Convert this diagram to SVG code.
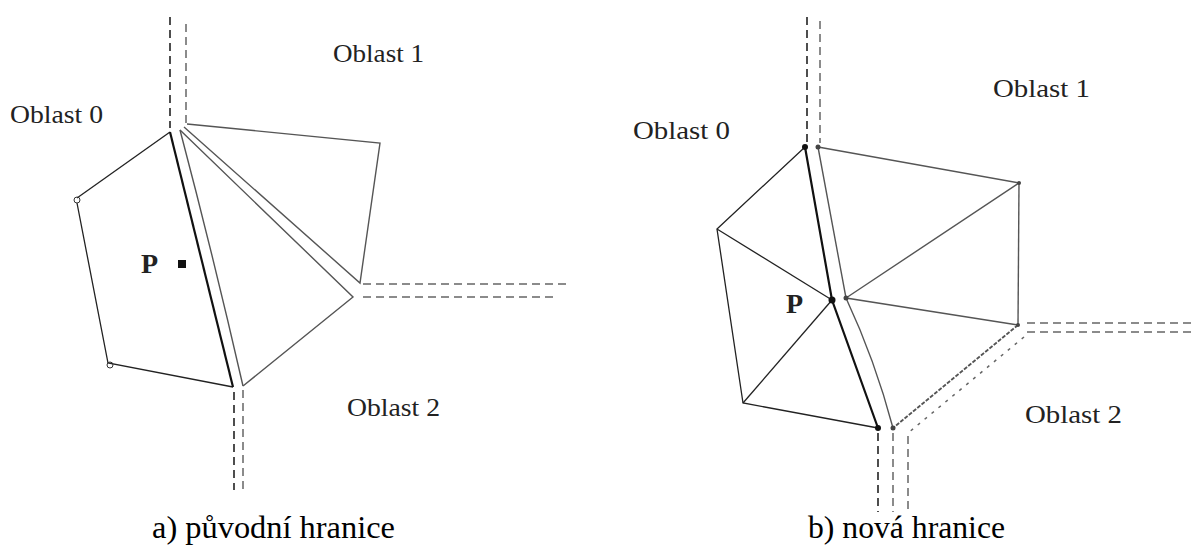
<svg xmlns="http://www.w3.org/2000/svg" width="1196" height="545" viewBox="0 0 1196 545">
<style>
.lbl{font-family:"Liberation Serif","DejaVu Serif",serif;font-size:26px;fill:#222}
.p{font-family:"Liberation Serif","DejaVu Serif",serif;font-size:28px;font-weight:bold;fill:#222}
.cap{font-family:"Liberation Serif","Times New Roman",serif;font-size:31px;fill:#000}
.blk{stroke:#111;stroke-width:2.2;fill:none}
.thin{stroke:#222;stroke-width:1.3;fill:none}
.gry{stroke:#555;stroke-width:1.4;fill:none}
.dd{stroke:#222;stroke-width:1.6;stroke-dasharray:8,5;fill:none}
.dg{stroke:#666;stroke-width:1.5;stroke-dasharray:8,5;fill:none}
.ds{stroke:#666;stroke-width:1.5;stroke-dasharray:3,6;fill:none}
.hat{stroke:#555;stroke-width:1.8;stroke-dasharray:4,1.5;fill:none}
</style>
<rect width="1196" height="545" fill="#fff"/>
<g id="connectors">
<g id="left-mesh">
<line class="dd" x1="170" y1="17" x2="170" y2="128"/>
<line class="dg" x1="186" y1="24" x2="186" y2="123"/>
<line class="dd" x1="234" y1="392" x2="234" y2="490"/>
<line class="dg" x1="243" y1="390" x2="243" y2="490"/>
<line class="dg" x1="363" y1="284" x2="567" y2="284"/>
<line class="dg" x1="363" y1="297" x2="558" y2="297"/>
<polyline class="thin" points="170,132 77,198"/>
<polyline class="thin" points="77,203 108,363 233,387"/>
<line class="blk" x1="170" y1="132" x2="233" y2="387"/>
<path class="gry" d="M180,130 Q213,255 243,386"/>
<polyline class="gry" points="243,386 353,297 180,130"/>
<polyline class="gry" points="187,124 380,143 360,283 184,127"/>
<circle cx="77" cy="200" r="3" fill="none" stroke="#333" stroke-width="1"/>
<circle cx="110" cy="365" r="3" fill="none" stroke="#333" stroke-width="1"/>
<rect x="178" y="260" width="8" height="8" fill="#111"/>
</g>
<g id="right-mesh">
<line class="dd" x1="807" y1="17" x2="807" y2="143"/>
<line class="dg" x1="820" y1="21" x2="820" y2="143"/>
<line class="dd" x1="878" y1="433" x2="878" y2="512"/>
<line class="dg" x1="893" y1="433" x2="893" y2="512"/>
<line class="dg" x1="908" y1="436" x2="908" y2="512"/>
<line class="dg" x1="1027" y1="323" x2="1196" y2="323"/>
<line class="dg" x1="1027" y1="332" x2="1196" y2="332"/>
<line class="ds" x1="1024" y1="337" x2="908" y2="433"/>
<polyline class="thin" points="805,147 717,229 743,403 878,428"/>
<line class="thin" x1="717" y1="229" x2="832" y2="300"/>
<line class="thin" x1="743" y1="403" x2="832" y2="300"/>
<polyline class="blk" points="805,147 832,300 878,428"/>
<path class="gry" d="M818,147 L846,298 Q875,360 893,428"/>
<polyline class="gry" points="818,147 1019,183 846,298 1018,325"/>
<line class="gry" x1="1019" y1="183" x2="1018" y2="325"/>
<line class="hat" x1="1018" y1="325" x2="893" y2="428"/>
<circle cx="805" cy="147" r="3" fill="#111"/>
<circle cx="818" cy="147" r="2.5" fill="#444"/>
<circle cx="832" cy="300" r="3.5" fill="#111"/>
<circle cx="846" cy="298" r="2.5" fill="#444"/>
<circle cx="878" cy="428" r="3" fill="#111"/>
<circle cx="893" cy="428" r="2.5" fill="#444"/>
<circle cx="1018" cy="325" r="2" fill="#444"/>
<circle cx="1019" cy="183" r="2" fill="#444"/>
</g>
</g>
<g id="labels">
<text class="lbl" x="10" y="123" textLength="93" lengthAdjust="spacingAndGlyphs">Oblast 0</text>
<text class="lbl" x="333" y="62" textLength="91" lengthAdjust="spacingAndGlyphs">Oblast 1</text>
<text class="lbl" x="347" y="416" textLength="93" lengthAdjust="spacingAndGlyphs">Oblast 2</text>
<text class="p" x="141" y="273">P</text>
<text class="lbl" x="633" y="139" textLength="97" lengthAdjust="spacingAndGlyphs">Oblast 0</text>
<text class="lbl" x="993" y="97" textLength="97" lengthAdjust="spacingAndGlyphs">Oblast 1</text>
<text class="lbl" x="1025" y="423" textLength="97" lengthAdjust="spacingAndGlyphs">Oblast 2</text>
<text class="p" x="786" y="313">P</text>
<text class="cap" x="152" y="538" textLength="243" lengthAdjust="spacingAndGlyphs">a) původní hranice</text>
<text class="cap" x="808" y="538" textLength="197" lengthAdjust="spacingAndGlyphs">b) nová hranice</text>
</g>
</svg>
